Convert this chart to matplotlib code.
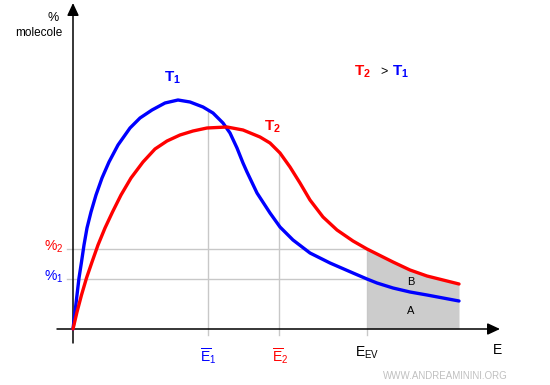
# distribuzione dell'energia delle molecole a due temperature (T2 > T1)
import numpy as np
import matplotlib.pyplot as plt

plt.rcParams['font.family'] = ['Liberation Sans', 'DejaVu Sans']
plt.rcParams['mathtext.fontset'] = 'custom'
plt.rcParams['mathtext.rm'] = 'Liberation Sans'
plt.rcParams['mathtext.it'] = 'Liberation Sans'
plt.rcParams['mathtext.bf'] = 'Liberation Sans:bold'

# curve (energia, % molecole)
e_t1 = [0, 4, 6, 8.5, 11, 14, 18, 23, 29, 36, 45, 57, 67, 79, 92, 105, 117, 130, 140,
        150, 157, 164, 170, 174, 184, 197, 207, 220, 237, 257, 280, 294, 304, 320, 337,
        354, 370, 386]
p_t1 = [0, 34, 51, 67, 84, 101, 117, 134, 151, 167, 184, 201, 211, 219, 226, 229, 227, 222, 216,
        206, 196, 181, 166, 157, 136, 116, 102, 89, 76, 66, 56, 50, 46, 41, 37,
        34, 31, 28]
e_t2 = [0, 4, 8.5, 13.5, 19, 25, 32, 39.5, 48, 58, 70, 82, 94, 107, 120, 134, 154, 170, 187, 197,
        207, 217, 227, 237, 250, 264, 280, 294, 304, 320, 337, 354, 370, 386]
p_t2 = [0, 17, 34, 51, 67, 84, 101, 117, 134, 151, 167, 180, 188, 194, 198, 201, 202, 199, 192, 186,
        176, 162, 146, 129, 112, 99, 88, 80, 75, 67, 59, 53, 49, 45]

# valori di riferimento
E1, E2, E_EV = 135, 206, 294
perc1, perc2 = 50, 80

fig = plt.figure(figsize=(5.5, 3.85), dpi=100)
ax = fig.add_axes([0, 0, 1, 1])
ax.set_xlim(-73, 477)
ax.set_ylim(-56, 329)
ax.axis('off')

e_t1 = np.array(e_t1); p_t1 = np.array(p_t1)
e_t2 = np.array(e_t2); p_t2 = np.array(p_t2)

# area grigia oltre E_EV
m = e_t2 >= E_EV
ax.fill_between(e_t2[m], 0, p_t2[m], color='#cccccc', lw=0, zorder=1)

# linee di riferimento
grid = dict(color='#c8c8c8', lw=1, zorder=2)
ax.plot([-6, E_EV], [perc2, perc2], **grid)
ax.plot([-6, E_EV], [perc1, perc1], **grid)
ax.plot([E1, E1], [-6, np.interp(E1, e_t1, p_t1)], **grid)
ax.plot([E2, E2], [-6, np.interp(E2, e_t2, p_t2)], **grid)
ax.plot([E_EV, E_EV], [-6, perc2], **grid)

# assi con freccia
arrow = dict(arrowstyle='-|>,head_length=0.75,head_width=0.35', color='black', lw=1.1,
             shrinkA=0, shrinkB=0)
ax.annotate('', xy=(427, 0), xytext=(-16, 0), arrowprops=arrow, zorder=3)
ax.annotate('', xy=(0, 326), xytext=(0, -14), arrowprops=arrow, zorder=3)

# curve
ax.plot(e_t1, p_t1, color='#0000ff', lw=2.4, zorder=4, solid_capstyle='round',
        solid_joinstyle='round')
ax.plot(e_t2, p_t2, color='#ff0000', lw=2.4, zorder=4, solid_capstyle='round',
        solid_joinstyle='round')

# testi
ax.text(-20, 311, '%', ha='center', va='center', fontsize=9)
ax.text(-11, 296, 'molecole', ha='right', va='center', fontsize=8.5)
ax.text(100, 251, r'$\mathbf{T_1}$', color='#0000ff', ha='center', va='center', fontsize=11)
ax.text(199, 202, r'$\mathbf{T_2}$', color='#ff0000', ha='center', va='center', fontsize=11)
ax.text(289, 257, r'$\mathbf{T_2}$', color='#ff0000', ha='center', va='center', fontsize=11)
ax.text(311, 257, '>', color='black', ha='center', va='center', fontsize=9)
ax.text(328, 257, r'$\mathbf{T_1}$', color='#0000ff', ha='center', va='center', fontsize=11)
ax.text(-10, perc2 + 2, r'%$_2$', color='#ff0000', ha='right', va='center', fontsize=10)
ax.text(-10, perc1 + 2, r'%$_1$', color='#0000ff', ha='right', va='center', fontsize=10)
ax.text(E1, -27, r'$\overline{\mathrm{E}}_1$', color='#0000ff', ha='center', va='center', fontsize=10)
ax.text(E2 + 1, -27, r'$\overline{\mathrm{E}}_2$', color='#ff0000', ha='center', va='center', fontsize=10)
ax.text(E_EV, -24, r'E$_{\mathrm{EV}}$', color='black', ha='center', va='center', fontsize=10)
ax.text(425, -21, 'E', color='black', ha='center', va='center', fontsize=10)
ax.text(338, 47, 'B', ha='center', va='center', fontsize=8)
ax.text(338, 18, 'A', ha='center', va='center', fontsize=8)
ax.text(435, -47, 'WWW.ANDREAMININI.ORG', color='#c0c0c0', ha='right', va='center', fontsize=7)

fig.savefig('out.png', dpi=100)
